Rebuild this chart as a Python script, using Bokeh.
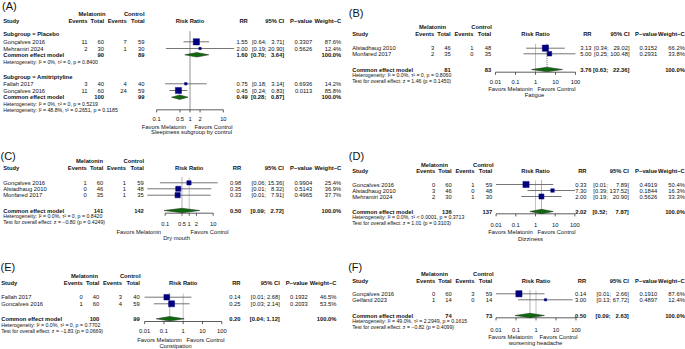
import numpy as np
from bokeh.plotting import figure
from bokeh.models import Range1d, LogScale, ColumnDataSource
from bokeh.core.properties import value
from bokeh.embed import file_html
from bokeh.resources import INLINE

W, H = 685, 349
FONT = "Liberation Sans"
FS = "5.8px"
FS_SMALL = "5.2px"
FS_LABEL = "11px"
TEXT_COLOR = "#111111"
CI_COLOR = "#666666"
SQ_COLOR = "#00007f"
DIA_FILL = "#0b6b0b"
DIA_LINE = "#2a3a2a"
AX_COLOR = "#333333"
FIGSP = "\u2007"

# ---------------- data ----------------
# (A) Sleepiness, subgroup by control
A_pla_study = ["Gonçalves 2016", "Mehramiri 2024"]
A_pla_ev_mel = [11, 2]
A_pla_n_mel = [60, 30]
A_pla_ev_ctl = [7, 1]
A_pla_n_ctl = [59, 30]
A_pla_rr = [1.55, 2.00]
A_pla_lo = [0.64, 0.19]
A_pla_hi = [3.71, 20.90]
A_pla_p = ["0.3307", "0.5626"]
A_pla_w = [87.6, 12.4]
A_pla_pooled = [1.60, 0.70, 3.64]
A_pla_totals = [90, 89]
A_pla_het = "Heterogeneity: I² = 0%, τ² = 0, p = 0.8400"

A_ami_study = ["Fallah 2017", "Gonçalves 2016"]
A_ami_ev_mel = [3, 11]
A_ami_n_mel = [40, 60]
A_ami_ev_ctl = [4, 24]
A_ami_n_ctl = [40, 59]
A_ami_rr = [0.75, 0.45]
A_ami_lo = [0.18, 0.24]
A_ami_hi = [3.14, 0.83]
A_ami_p = ["0.6936", "0.0113"]
A_ami_w = [14.2, 85.8]
A_ami_pooled = [0.49, 0.28, 0.87]
A_ami_totals = [100, 99]
A_ami_het = "Heterogeneity: I² = 0%, τ² = 0, p = 0.5219"
A_overall_het = "Heterogeneity: I² = 48.8%, τ² = 0.2651, p = 0.1185"
A_ticks = [0.1, 0.5, 1, 2, 10]
A_tick_labels = ["0.1", "0.5", "1", "2", "10"]
A_outcome = "Sleepiness subgroup by control"

# (B) Fatigue
B_study = ["Alstadhaug 2010", "Monfared 2017"]
B_ev_mel = [3, 2]
B_n_mel = [46, 35]
B_ev_ctl = [1, 0]
B_n_ctl = [48, 35]
B_rr = [3.13, 5.00]
B_lo = [0.34, 0.25]
B_hi = [29.02, 100.48]
B_p = ["0.3152", "0.2931"]
B_w = [66.2, 33.8]
B_pooled = [3.76, 0.63, 22.36]
B_totals = [81, 83]
B_het = "Heterogeneity: I² = 0.0%, τ² = 0, p = 0.8060"
B_test = "Test for overall effect: z = 1.46 (p = 0.1450)"
B_ticks = [0.01, 0.1, 1, 10, 100]
B_tick_labels = ["0.01", "0.1", "1", "10", "100"]
B_outcome = "Fatigue"

# (C) Dry mouth
C_study = ["Gonçalves 2016", "Alstadhaug 2010", "Monfared 2017"]
C_ev_mel = [1, 0, 0]
C_n_mel = [60, 46, 35]
C_ev_ctl = [1, 1, 1]
C_n_ctl = [59, 48, 35]
C_rr = [0.98, 0.35, 0.33]
C_lo = [0.06, 0.01, 0.01]
C_hi = [15.36, 8.32, 7.91]
C_p = ["0.9904", "0.5143", "0.4965"]
C_w = [25.4, 36.9, 37.7]
C_pooled = [0.50, 0.09, 2.72]
C_totals = [141, 142]
C_het = "Heterogeneity: I² = 0.0%, τ² = 0, p = 0.8420"
C_test = "Test for overall effect: z = −0.80 (p = 0.4249)"
C_ticks = [0.1, 0.5, 1, 2, 10]
C_tick_labels = ["0.1", "0.5", "1", "2", "10"]
C_outcome = "Dry mouth"

# (D) Dizziness
D_study = ["Goncalves 2016", "Alstadhaug 2010", "Mehramiri 2024"]
D_ev_mel = [0, 3, 2]
D_n_mel = [60, 46, 30]
D_ev_ctl = [1, 0, 1]
D_n_ctl = [59, 48, 30]
D_rr = [0.33, 7.30, 2.00]
D_lo = [0.01, 0.39, 0.19]
D_hi = [7.89, 137.52, 20.90]
D_p = ["0.4919", "0.1844", "0.5626"]
D_w = [50.4, 16.3, 33.3]
D_pooled = [2.02, 0.52, 7.87]
D_totals = [136, 137]
D_het = "Heterogeneity: I² = 0.0%, τ² < 0.0001, p = 0.3713"
D_test = "Test for overall effect: z = 1.01 (p = 0.3103)"
D_ticks = [0.01, 0.1, 1, 10, 100]
D_tick_labels = ["0.01", "0.1", "1", "10", "100"]
D_outcome = "Dizziness"

# (E) Constipation
E_study = ["Fallah 2017", "Goncalves 2016"]
E_ev_mel = [0, 1]
E_n_mel = [40, 60]
E_ev_ctl = [3, 4]
E_n_ctl = [40, 59]
E_rr = [0.14, 0.25]
E_lo = [0.01, 0.03]
E_hi = [2.68, 2.14]
E_p = ["0.1932", "0.2033"]
E_w = [46.5, 53.5]
E_pooled = [0.20, 0.04, 1.12]
E_totals = [100, 99]
E_het = "Heterogeneity: I² = 0.0%, τ² = 0, p = 0.7702"
E_test = "Test for overall effect: z = −1.83 (p = 0.0669)"
E_ticks = [0.01, 0.1, 1, 10, 100]
E_tick_labels = ["0.01", "0.1", "1", "10", "100"]
E_outcome = "Constipation"

# (F) Worsening headache
F_study = ["Gonçalves 2016", "Gelfand 2023"]
F_ev_mel = [0, 1]
F_n_mel = [60, 14]
F_ev_ctl = [3, 0]
F_n_ctl = [59, 14]
F_rr = [0.14, 3.00]
F_lo = [0.01, 0.13]
F_hi = [2.66, 67.72]
F_p = ["0.1910", "0.4897"]
F_w = [87.6, 12.4]
F_pooled = [0.50, 0.09, 2.63]
F_totals = [74, 73]
F_het = "Heterogeneity: I² = 49.0%, τ² = 2.2949, p = 0.1615"
F_test = "Test for overall effect: z = −0.82 (p = 0.4099)"
F_ticks = [0.01, 0.1, 1, 10, 100]
F_tick_labels = ["0.01", "0.1", "1", "10", "100"]
F_outcome = "worsening headache"

# ---------------- layout (pixel positions of the panels) ----------------
LAYOUT = {
    "A": dict(label=(1.5, 5), sx=2.7, nc=144, rr=247.3, ci=283.7, pv=311.7, w=340.7,
              mel_c=91.5, ctl_c=133.7, y_h1=13, y_h2=20, x1=189.5, ppd=33.35, axis_y=109.3, tick_y=118.3,
              fav_y=126.3, fav_l=163.5, fav_r=213, out_y=131.8, out_x=191, ref_top=30.7, ref_color="#888888",
              dotted=False, sq=6.2, clip=(0.005, 200)),
    "B": dict(label=(348.3, 12.5), sx=351.7, nc=490.7, rr=591, ci=629, pv=656.7, w=684.3,
              mel_c=432, ctl_c=481, y_h1=26, y_h2=33.3, rows=[47.7, 53.3], pooled_y=69, notes=[74.3, 80],
              x1=535, ppd=20, axis_y=71.7, tick_y=81.3, fav_y=88, fav_l=510, fav_r=556, out_y=94.7, out_x=534,
              ref_top=43.3, ref_color="#bbbbbb", dotted=True, sq=6.2, clip=(0.01, 100)),
    "C": dict(label=(0, 155), sx=2.7, nc=143.3, rr=240.7, ci=283.3, pv=311.7, w=340.7,
              mel_c=89, ctl_c=133.3, y_h1=160, y_h2=167.7, rows=[182.3, 188.3, 194.7], pooled_y=210, notes=[215.7, 221.7],
              x1=188.7, ppd=24, axis_y=212.7, tick_y=223.7, fav_y=231, fav_l=138.3, fav_r=209, out_y=237.3, out_x=176,
              ref_top=177, ref_color="#bbbbbb", dotted=True, sq=5.2, clip=(0.018, 100)),
    "D": dict(label=(348.3, 155), sx=351.7, nc=491.7, rr=586, ci=628.3, pv=656.7, w=684.3,
              mel_c=434, ctl_c=482.8, y_h1=164, y_h2=170.7, rows=[184, 190, 196], pooled_y=211, notes=[216.7, 222.7],
              x1=535, ppd=19.7, axis_y=213.3, tick_y=224.3, fav_y=231.7, fav_l=510, fav_r=556, out_y=238.3, out_x=530,
              ref_top=180, ref_color="#bbbbbb", dotted=True, sq=6.2, clip=(0.01, 100)),
    "E": dict(label=(0, 266), sx=0.7, nc=139.3, rr=240, ci=279.3, pv=307.3, w=336,
              mel_c=84, ctl_c=129.7, y_h1=275, y_h2=282.7, rows=[296.7, 303.3], pooled_y=318.3, notes=[324, 330],
              x1=182.7, ppd=19.3, axis_y=321, tick_y=330.7, fav_y=339, fav_l=159, fav_r=205, out_y=345, out_x=175,
              ref_top=293, ref_color="#bbbbbb", dotted=True, sq=6.0, clip=(0.006, 100)),
    "F": dict(label=(347.7, 266), sx=351.7, nc=491.7, rr=585.7, ci=628.3, pv=656.7, w=684.3,
              mel_c=434, ctl_c=482.8, y_h1=273.3, y_h2=280, rows=[293.3, 299.3], pooled_y=315, notes=[320.7, 326.7],
              x1=535.5, ppd=20, axis_y=317.3, tick_y=329.3, fav_y=336, fav_l=510, fav_r=558, out_y=342.7, out_x=535,
              ref_top=290, ref_color="#bbbbbb", dotted=True, sq=6.2, clip=(0.01, 100)),
}
# count columns: right edges relative to the control "Total" column
for L in LAYOUT.values():
    L["evc"] = L["nc"] - 17.8
    L["nm"] = L["nc"] - 40.5
    L["evm"] = L["nc"] - 57.0
DH = 2.2  # diamond half height (px)

# ---------------- figure ----------------
p = figure(width=W, height=H, output_backend="svg", toolbar_location=None,
           x_range=Range1d(0, W), y_range=Range1d(H, 0),
           x_axis_location=None, y_axis_location=None, min_border=0)
p.grid.visible = False
p.outline_line_color = None
p.background_fill_color = "white"
p.border_fill_color = "white"

# one log scale per forest panel
ranges, scales = {}, {}
for name, L in LAYOUT.items():
    ranges[name] = Range1d(10 ** ((0 - L["x1"]) / L["ppd"]), 10 ** ((W - L["x1"]) / L["ppd"]))
    scales[name] = LogScale()
p.extra_x_ranges = ranges
p.extra_x_scales = scales

TXT = {}


def T(x, y, s, align="left", bold=False, size=FS):
    d = TXT.setdefault((align, bold, size), {"x": [], "y": [], "text": []})
    d["x"].append(x)
    d["y"].append(y)
    d["text"].append(s)


def ci_str(lo, hi, width):
    h = f"{hi:.2f}"
    return f"[{lo:.2f}; " + FIGSP * (width - len(h)) + h + "]"


def headers(name):
    L = LAYOUT[name]
    T(L["label"][0], L["label"][1], f"({name})", size=FS_LABEL)
    T(L["mel_c"], L["y_h1"], "Melatonin", "center", True)
    T(L["ctl_c"], L["y_h1"], "Control", "center", True)
    y = L["y_h2"]
    T(L["sx"], y, "Study", "left", True)
    T(L["evm"], y, "Events", "right", True)
    T(L["nm"], y, "Total", "right", True)
    T(L["evc"], y, "Events", "right", True)
    T(L["nc"], y, "Total", "right", True)
    T(L["x1"], y, "Risk Ratio", "center", True)
    T(L["rr"], y, "RR", "right", True)
    T(L["ci"], y, "95% CI", "right", True)
    T(L["pv"], y, "P−value", "right", True)
    T(L["w"], y, "Weight−C", "right", True)


def ref_line(name, bottom):
    L = LAYOUT[name]
    p.segment(x0=[1], x1=[1], y0=[L["ref_top"]], y1=[bottom], x_range_name=name,
              line_color=L["ref_color"], line_width=0.9)


def studies(name, ys, study, evm, nm, evc, nc, rr, lo, hi, pv, w, wmax, hiw):
    L = LAYOUT[name]
    for i, y in enumerate(ys):
        T(L["sx"], y, study[i])
        T(L["evm"], y, str(evm[i]), "right")
        T(L["nm"], y, str(nm[i]), "right")
        T(L["evc"], y, str(evc[i]), "right")
        T(L["nc"], y, str(nc[i]), "right")
        T(L["rr"], y, f"{rr[i]:.2f}", "right")
        T(L["ci"], y, ci_str(lo[i], hi[i], hiw), "right")
        T(L["pv"], y, pv[i], "right")
        T(L["w"], y, f"{w[i]:.1f}%", "right")
    src = ColumnDataSource(dict(
        rr=rr, y=ys,
        lo=[max(v, L["clip"][0]) for v in lo],
        hi=[min(v, L["clip"][1]) for v in hi],
        size=[L["sq"] * np.sqrt(v / wmax) for v in w]))
    p.segment(x0="lo", x1="hi", y0="y", y1="y", source=src, x_range_name=name,
              line_color=CI_COLOR, line_width=0.9)
    p.scatter(x="rr", y="y", size="size", marker="square", source=src, x_range_name=name,
              fill_color=SQ_COLOR, line_color=SQ_COLOR, line_width=0.5)


def pooled(name, y, totals, est, hiw):
    L = LAYOUT[name]
    T(L["sx"], y, "Common effect model", "left", True)
    T(L["nm"], y, str(totals[0]), "right", True)
    T(L["nc"], y, str(totals[1]), "right", True)
    T(L["rr"], y, f"{est[0]:.2f}", "right", True)
    T(L["ci"], y, ci_str(est[1], est[2], hiw), "right", True)
    T(L["w"], y, "100.0%", "right", True)
    p.patches(xs=[[est[1], est[0], est[2], est[0]]], ys=[[y, y - DH, y, y + DH]], x_range_name=name,
              fill_color=DIA_FILL, line_color=DIA_LINE, line_width=0.6)


def axis(name, ticks, labels, outcome):
    L = LAYOUT[name]
    ay = L["axis_y"]
    n = len(ticks)
    p.segment(x0=[ticks[0]], x1=[ticks[-1]], y0=[ay], y1=[ay], x_range_name=name,
              line_color=AX_COLOR, line_width=0.8)
    p.segment(x0=ticks, x1=ticks, y0=[ay] * n, y1=[ay + 2.6] * n, x_range_name=name,
              line_color=AX_COLOR, line_width=0.8)
    p.text(x=ticks, y=[L["tick_y"]] * n, text=labels, x_range_name=name, text_align="center",
           text_baseline="middle", text_font=value(FONT), text_font_size=FS, text_color=TEXT_COLOR)
    T(L["fav_l"], L["fav_y"], "Favors Melatonin", "center")
    T(L["fav_r"], L["fav_y"], "Favors Control", "center")
    T(L["out_x"], L["out_y"], outcome, "center")


def hiw_of(*his):
    return max(len(f"{v:.2f}") for group in his for v in group)


# ---- panel A ----
LA = LAYOUT["A"]
headers("A")
ref_line("A", LA["axis_y"])
wA = max(A_pla_w + A_ami_w)
hA = hiw_of(A_pla_hi, A_ami_hi, [A_pla_pooled[2], A_ami_pooled[2]])
T(LA["sx"], 33, "Subgroup = Placebo", "left", True)
studies("A", [41.3, 48], A_pla_study, A_pla_ev_mel, A_pla_n_mel, A_pla_ev_ctl, A_pla_n_ctl,
        A_pla_rr, A_pla_lo, A_pla_hi, A_pla_p, A_pla_w, wA, hA)
pooled("A", 54.3, A_pla_totals, A_pla_pooled, hA)
T(LA["sx"], 61, A_pla_het, size=FS_SMALL)
T(LA["sx"], 76.3, "Subgroup = Amitriptyline", "left", True)
studies("A", [83.3, 90], A_ami_study, A_ami_ev_mel, A_ami_n_mel, A_ami_ev_ctl, A_ami_n_ctl,
        A_ami_rr, A_ami_lo, A_ami_hi, A_ami_p, A_ami_w, wA, hA)
pooled("A", 96.7, A_ami_totals, A_ami_pooled, hA)
T(LA["sx"], 103, A_ami_het, size=FS_SMALL)
T(LA["sx"], 109.3, A_overall_het, size=FS_SMALL)
axis("A", A_ticks, A_tick_labels, A_outcome)

# ---- simple panels ----
PANELS = [
    ("B", B_study, B_ev_mel, B_n_mel, B_ev_ctl, B_n_ctl, B_rr, B_lo, B_hi, B_p, B_w, B_pooled, B_totals,
     B_het, B_test, B_ticks, B_tick_labels, B_outcome),
    ("C", C_study, C_ev_mel, C_n_mel, C_ev_ctl, C_n_ctl, C_rr, C_lo, C_hi, C_p, C_w, C_pooled, C_totals,
     C_het, C_test, C_ticks, C_tick_labels, C_outcome),
    ("D", D_study, D_ev_mel, D_n_mel, D_ev_ctl, D_n_ctl, D_rr, D_lo, D_hi, D_p, D_w, D_pooled, D_totals,
     D_het, D_test, D_ticks, D_tick_labels, D_outcome),
    ("E", E_study, E_ev_mel, E_n_mel, E_ev_ctl, E_n_ctl, E_rr, E_lo, E_hi, E_p, E_w, E_pooled, E_totals,
     E_het, E_test, E_ticks, E_tick_labels, E_outcome),
    ("F", F_study, F_ev_mel, F_n_mel, F_ev_ctl, F_n_ctl, F_rr, F_lo, F_hi, F_p, F_w, F_pooled, F_totals,
     F_het, F_test, F_ticks, F_tick_labels, F_outcome),
]
for (name, study, evm, nm, evc, nc, rr, lo, hi, pv, w, est, tot, het, test, ticks, tlab, outcome) in PANELS:
    L = LAYOUT[name]
    headers(name)
    ref_line(name, L["axis_y"])
    if L["dotted"]:
        p.segment(x0=[est[0]], x1=[est[0]], y0=[L["ref_top"]], y1=[L["pooled_y"] - DH], x_range_name=name,
                  line_color="#555555", line_width=0.9, line_dash="1 1")
    hw = hiw_of(hi, [est[2]])
    studies(name, L["rows"], study, evm, nm, evc, nc, rr, lo, hi, pv, w, max(w), hw)
    pooled(name, L["pooled_y"], tot, est, hw)
    T(L["sx"], L["notes"][0], het, size=FS_SMALL)
    T(L["sx"], L["notes"][1], test, size=FS_SMALL)
    axis(name, ticks, tlab, outcome)

for (align, bold, size), d in TXT.items():
    p.text(x="x", y="y", text="text", source=ColumnDataSource(d), text_align=align,
           text_baseline="middle", text_font=value(FONT), text_font_size=size,
           text_font_style="bold" if bold else "normal", text_color=TEXT_COLOR)

open("out.html", "w").write(file_html(p, INLINE))
